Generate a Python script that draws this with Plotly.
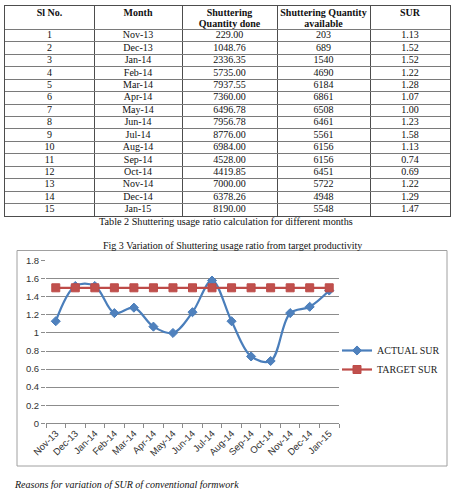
import plotly.graph_objects as go

W, H = 455, 489

sl_no = list(range(1, 16))
months = ["Nov-13", "Dec-13", "Jan-14", "Feb-14", "Mar-14", "Apr-14", "May-14", "Jun-14",
          "Jul-14", "Aug-14", "Sep-14", "Oct-14", "Nov-14", "Dec-14", "Jan-15"]
qty_done = [229.00, 1048.76, 2336.35, 5735.00, 7937.55, 7360.00, 6496.78, 7956.78,
            8776.00, 6984.00, 4528.00, 4419.85, 7000.00, 6378.26, 8190.00]
qty_avail = [203, 689, 1540, 4690, 6184, 6861, 6508, 6461, 5561, 6156, 6156, 6451, 5722, 4948, 5548]
actual_sur = [1.13, 1.52, 1.52, 1.22, 1.28, 1.07, 1.00, 1.23, 1.58, 1.13, 0.74, 0.69, 1.22, 1.29, 1.47]
target_sur = [1.5] * 15
header_line1 = ["Sl No.", "Month", "Shuttering", "Shuttering Quantity", "SUR"]
header_line2 = ["", "", "Quantity done", "available", ""]
col_widths = [89, 88, 95, 93, 80]
y_ticks = [0, 0.2, 0.4, 0.6, 0.8, 1, 1.2, 1.4, 1.6, 1.8]


def px(x):
    return x / W


def py(y):
    return 1 - y / H


SERIF = "Liberation Serif, Times New Roman, serif"
SANS = "Liberation Sans, Arial, sans-serif"

# ---- table geometry (in table-axis units) ----
TABLE_TOP, TABLE_BOTTOM = 5.5, 216.0
HEADER_PX = 24.0
ROW_PX = (TABLE_BOTTOM - TABLE_TOP - HEADER_PX) / len(sl_no)
HEADER_UNITS = HEADER_PX / ROW_PX

bounds = [0]
for w in col_widths:
    bounds.append(bounds[-1] + w)
centers = [(bounds[i] + bounds[i + 1]) / 2 for i in range(len(col_widths))]

columns_text = [
    [str(v) for v in sl_no],
    list(months),
    ["%.2f" % v for v in qty_done],
    [str(v) for v in qty_avail],
    ["%.2f" % v for v in actual_sur],
]

fig = go.Figure()

row_y = [i + 0.5 for i in range(len(sl_no))]
for ci, col in enumerate(columns_text):
    fig.add_trace(go.Scatter(
        x=[centers[ci]] * len(col), y=row_y, text=col, mode="text",
        textposition="middle center",
        textfont=dict(family=SERIF, size=10, color="#111111"),
        xaxis="x2", yaxis="y2", showlegend=False, hoverinfo="skip",
    ))

for line_text, off_px in ((header_line1, 8.3), (header_line2, 19.3)):
    fig.add_trace(go.Scatter(
        x=centers, y=[-HEADER_UNITS + off_px / ROW_PX] * len(line_text),
        text=["<b>%s</b>" % t if t else "" for t in line_text], mode="text",
        textposition="middle center",
        textfont=dict(family=SERIF, size=10, color="#111111"),
        xaxis="x2", yaxis="y2", showlegend=False, hoverinfo="skip",
    ))

# ---- chart ----
fig.add_trace(go.Scatter(
    x=months, y=actual_sur, name="ACTUAL SUR", mode="lines+markers",
    line=dict(color="#4A7EBB", width=2.2, shape="spline", smoothing=1),
    marker=dict(symbol="diamond", size=7, color="#4F81BD", line=dict(color="#4A7EBB", width=1)),
))
fig.add_trace(go.Scatter(
    x=months, y=target_sur, name="TARGET SUR", mode="lines+markers",
    line=dict(color="#BE4B48", width=2.2),
    marker=dict(symbol="square", size=8, color="#C0504D", line=dict(color="#BE4B48", width=1)),
))

fig.update_layout(
    width=W, height=H,
    margin=dict(l=0, r=0, t=0, b=0, autoexpand=False),
    paper_bgcolor="white", plot_bgcolor="rgba(0,0,0,0)",
    showlegend=True,
    legend=dict(
        x=px(337), y=py(336), xanchor="left", yanchor="top",
        font=dict(family=SERIF, size=10, color="#222222"),
        bgcolor="rgba(0,0,0,0)", tracegroupgap=0, itemwidth=30,
    ),
    xaxis=dict(
        domain=[px(46), px(339)],
        type="category", range=[-0.5, 14.5],
        showgrid=False, showline=True, linecolor="#8C8C8C", linewidth=1,
        ticks="outside", tickson="boundaries", ticklen=4, tickcolor="#8C8C8C",
        tickangle=-45, tickfont=dict(family=SANS, size=9.5, color="#333333"),
        anchor="y", fixedrange=True, automargin=False,
    ),
    yaxis=dict(
        domain=[py(423.3), py(260.7)],
        range=[0, 1.8], tickvals=y_ticks, ticktext=[("%g" % v) for v in y_ticks],
        showgrid=True, gridcolor="#8C8C8C", gridwidth=1,
        showline=False, zeroline=False,
        ticks="outside", ticklen=4, tickcolor="#8C8C8C",
        tickfont=dict(family=SANS, size=9.5, color="#333333"),
        anchor="x", fixedrange=True, automargin=False,
    ),
    xaxis2=dict(
        domain=[px(5), px(450)], range=[0, bounds[-1]],
        tickvals=bounds[1:-1], showticklabels=False, ticks="",
        showgrid=True, gridcolor="#4D4D4D", gridwidth=1,
        showline=True, mirror=True, linecolor="#4D4D4D", linewidth=1,
        zeroline=False, anchor="y2", fixedrange=True, automargin=False,
    ),
    yaxis2=dict(
        domain=[py(TABLE_BOTTOM), py(TABLE_TOP)], range=[len(sl_no), -HEADER_UNITS],
        tickvals=list(range(0, len(sl_no))), showticklabels=False, ticks="",
        showgrid=True, gridcolor="#7A7A7A", gridwidth=1,
        showline=True, mirror=True, linecolor="#4D4D4D", linewidth=1,
        zeroline=False, anchor="x2", fixedrange=True, automargin=False,
    ),
    shapes=[
        dict(type="rect", xref="paper", yref="paper",
             x0=px(17), x1=px(447), y0=py(466), y1=py(250.5),
             line=dict(color="#A0A0A0", width=1), fillcolor="rgba(0,0,0,0)", layer="below"),
    ],
    annotations=[
        dict(text="Table 2 Shuttering usage ratio calculation for different months",
             x=px(226), y=py(221.5), xref="paper", yref="paper", showarrow=False,
             xanchor="center", yanchor="middle",
             font=dict(family=SERIF, size=10.2, color="#111111")),
        dict(text="Fig 3 Variation of Shuttering usage ratio from target productivity",
             x=px(233), y=py(245), xref="paper", yref="paper", showarrow=False,
             xanchor="center", yanchor="middle",
             font=dict(family=SERIF, size=10, color="#111111")),
        dict(text="<i>Reasons for variation of SUR of conventional formwork</i>",
             x=px(12), y=py(484), xref="paper", yref="paper", showarrow=False,
             xanchor="left", yanchor="middle",
             font=dict(family=SERIF, size=10, color="#111111")),
    ],
)

fig.write_html("out.html")
